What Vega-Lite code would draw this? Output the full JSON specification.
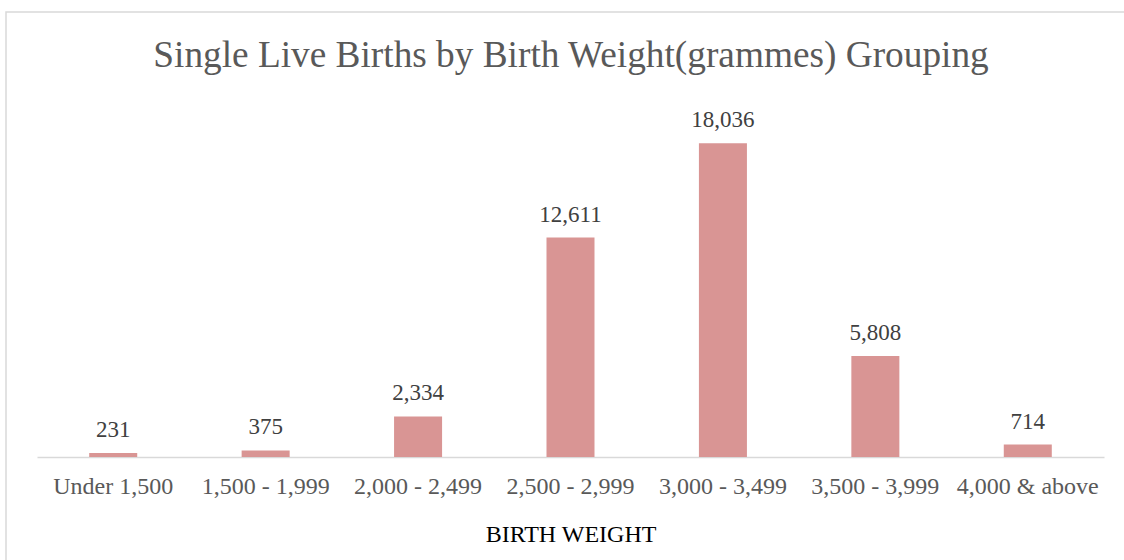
{
  "$schema": "https://vega.github.io/schema/vega-lite/v6.json",
  "width": 1130,
  "height": 560,
  "autosize": "none",
  "padding": {"left": 6, "top": 12, "right": 0, "bottom": 0},
  "background": "#ffffff",
  "config": {
    "view": {"stroke": "#D9D9D9", "strokeWidth": 1.5},
    "font": "Liberation Serif"
  },
  "title": {
    "text": "Single Live Births by Birth Weight(grammes) Grouping",
    "font": "Liberation Serif",
    "fontSize": 37.3,
    "fontWeight": "normal",
    "color": "#595959",
    "anchor": "middle",
    "frame": "group",
    "baseline": "alphabetic",
    "offset": -92
  },
  "data": {
    "values": [
      {"group": "Under 1,500", "births": 231},
      {"group": "1,500 - 1,999", "births": 375},
      {"group": "2,000 - 2,499", "births": 2334},
      {"group": "2,500 - 2,999", "births": 12611},
      {"group": "3,000 - 3,499", "births": 18036},
      {"group": "3,500 - 3,999", "births": 5808},
      {"group": "4,000 & above", "births": 714}
    ]
  },
  "encoding": {
    "x": {
      "field": "group",
      "type": "nominal",
      "sort": null,
      "scale": {"range": [31, 1098], "paddingInner": 0.685, "paddingOuter": 0.3425},
      "axis": {
        "title": "BIRTH WEIGHT",
        "titleFont": "Liberation Serif",
        "titleFontSize": 24,
        "titleFontWeight": "normal",
        "titleColor": "#000000",
        "titleBaseline": "alphabetic",
        "titleY": 84,
        "labelAngle": 0,
        "labelFont": "Liberation Serif",
        "labelFontSize": 24,
        "labelColor": "#595959",
        "labelBaseline": "alphabetic",
        "labelPadding": 36,
        "ticks": false,
        "domainColor": "#D9D9D9",
        "domainWidth": 1.5,
        "offset": -115,
        "grid": false
      }
    },
    "y": {
      "field": "births",
      "type": "quantitative",
      "scale": {"domain": [0, 20000], "range": [445, 97]},
      "axis": null
    }
  },
  "layer": [
    {"mark": {"type": "bar", "color": "#D99594"}},
    {
      "mark": {
        "type": "text",
        "baseline": "alphabetic",
        "dy": -16,
        "font": "Liberation Serif",
        "fontSize": 23,
        "color": "#404040"
      },
      "encoding": {"text": {"field": "births", "type": "quantitative", "format": ","}}
    }
  ]
}
